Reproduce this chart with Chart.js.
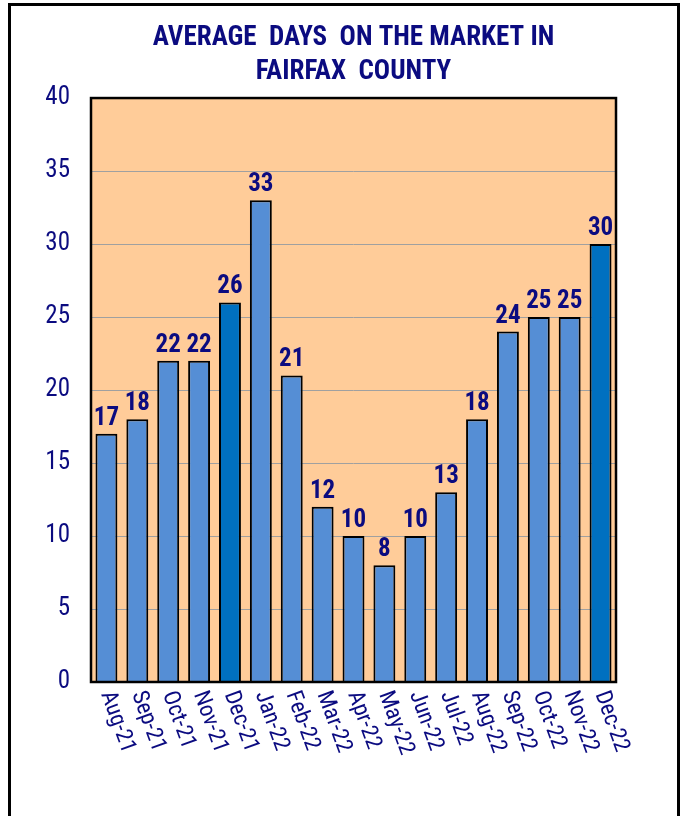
<!DOCTYPE html>
<html>
<head>
<meta charset="utf-8">
<script src="https://cdn.jsdelivr.net/npm/chart.js@4.4.1/dist/chart.umd.min.js"></script>
<style>
  html, body { margin: 0; padding: 0; background: #ffffff; }
  #wrap { position: relative; width: 683px; height: 816px; }
  canvas { display: block; }
</style>
</head>
<body>
<div id="wrap"><canvas id="c" width="683" height="816"></canvas></div>
<script>
const categories = ["Aug-21","Sep-21","Oct-21","Nov-21","Dec-21","Jan-22","Feb-22","Mar-22","Apr-22","May-22","Jun-22","Jul-22","Aug-22","Sep-22","Oct-22","Nov-22","Dec-22"];
const daysOnMarket = [17,18,22,22,26,33,21,12,10,8,10,13,18,24,25,25,30];
const highlighted = ["Dec-21","Dec-22"];
const titleLines = ["AVERAGE  DAYS  ON THE MARKET IN", "FAIRFAX  COUNTY"];

const NAVY = "#0b0b80";
const NARROW = "'Roboto Condensed', 'Liberation Sans', Arial, sans-serif";

const frameAndBg = {
  id: 'frameAndBg',
  beforeDraw(chart) {
    const ctx = chart.ctx, a = chart.chartArea;
    ctx.save();
    ctx.fillStyle = '#ffffff';
    ctx.fillRect(0, 0, chart.width, chart.height);
    ctx.strokeStyle = '#000000';
    ctx.lineWidth = 3;
    ctx.strokeRect(9.5, 4.5, 669, 900);
    ctx.fillStyle = '#FFCC99';
    ctx.fillRect(a.left, a.top, a.right - a.left, a.bottom - a.top);
    ctx.restore();
  },
  afterDatasetsDraw(chart) {
    const ctx = chart.ctx, a = chart.chartArea;
    ctx.save();
    ctx.strokeStyle = '#000000';
    ctx.lineWidth = 2.5;
    ctx.strokeRect(a.left, a.top, a.right - a.left, a.bottom - a.top);
    // value labels
    const meta = chart.getDatasetMeta(0);
    ctx.fillStyle = NAVY;
    ctx.font = "bold 25px " + NARROW;
    ctx.textAlign = 'center';
    ctx.textBaseline = 'alphabetic';
    meta.data.forEach((bar, i) => {
      ctx.fillText(String(daysOnMarket[i]), bar.x, bar.y - 9);
    });
    // rotated category labels
    const xs = chart.scales.x;
    ctx.font = "23px " + NARROW;
    ctx.textAlign = 'left';
    ctx.textBaseline = 'middle';
    categories.forEach((c, i) => {
      const px = xs.getPixelForTick(i);
      ctx.save();
      ctx.translate(px, a.bottom + 10);
      ctx.rotate(70 * Math.PI / 180);
      ctx.fillText(c, 0, 0);
      ctx.restore();
    });
    ctx.restore();
  }
};

new Chart(document.getElementById('c'), {
  type: 'bar',
  data: {
    labels: categories,
    datasets: [{
      data: daysOnMarket,
      backgroundColor: categories.map(c => highlighted.includes(c) ? '#0070C0' : '#558ED5'),
      borderColor: '#000000',
      borderWidth: 2,
      barPercentage: 0.71,
      categoryPercentage: 1.0
    }]
  },
  options: {
    responsive: false,
    animation: false,
    devicePixelRatio: 1,
    layout: { padding: { left: 0, right: 67, top: 0, bottom: 0 } },
    plugins: {
      legend: { display: false },
      tooltip: { enabled: false },
      title: {
        display: true,
        text: titleLines,
        color: NAVY,
        fullSize: false,
        font: { family: NARROW, size: 27, weight: 'bold', lineHeight: 1.26 },
        padding: { top: 21, bottom: 9 }
      }
    },
    scales: {
      x: {
        grid: { display: false, drawTicks: false },
        border: { display: false },
        ticks: { display: false },
        afterFit(s) { s.height = 134; }
      },
      y: {
        min: 0, max: 40,
        ticks: { stepSize: 5, color: NAVY, padding: 21, font: { family: NARROW, size: 25 } },
        grid: { color: '#a0a0a0', lineWidth: 1, drawTicks: false },
        border: { display: false },
        afterFit(s) { s.width = 91; }
      }
    }
  },
  plugins: [frameAndBg]
});
</script>
</body>
</html>
